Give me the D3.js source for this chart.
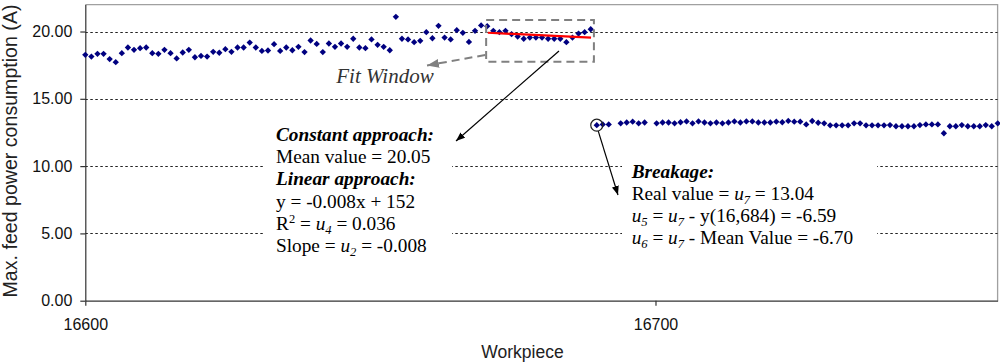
<!DOCTYPE html>
<html><head><meta charset="utf-8">
<script src="https://cdn.jsdelivr.net/npm/d3@7"></script>
<style>body{margin:0;background:#fff} svg{display:block}</style>
</head><body><svg id="c" width="1000" height="364"></svg>
<script>
// ---- data ----
const leftValues = [
 18.27,18.14,18.34,18.34,17.95,17.72,18.39,18.81,18.64,18.76,18.81,18.39,18.34,18.64,18.39,18.00,18.44,18.64,18.09,18.19,
 18.14,18.49,18.42,18.69,18.49,18.81,18.81,19.18,18.81,18.56,18.59,19.06,18.56,18.81,18.61,18.86,18.47,19.33,19.08,18.47,
 19.11,18.86,19.11,18.86,19.46,18.81,18.76,19.41,19.01,18.86,18.61,21.09,19.46,19.41,19.21,19.31,19.95,19.50,20.42,19.55,
 19.41,20.10,19.90,19.23,20.05,20.45,20.40,
 20.05,19.95,20.05,19.80,19.63,19.46,19.55,19.55,19.55,19.46,19.46,19.46,19.21,19.55,19.85,19.95,20.17
];
const rightValues = [
 13.04,13.10,13.10,null,13.18,13.24,13.30,13.18,13.24,null,
 13.18,13.24,13.24,13.18,13.26,13.32,13.18,13.32,13.24,13.18,13.24,13.18,13.24,13.32,13.24,13.32,13.32,13.24,13.24,13.24,13.30,13.26,13.36,
 13.30,13.30,13.10,13.35,13.22,13.18,13.03,13.03,13.03,13.03,13.18,13.18,13.03,13.03,13.03,13.03,13.05,12.96,12.96,12.96,12.96,
 13.05,13.10,13.10,13.10,12.44,12.96,12.96,13.05,12.96,12.96,12.96,13.05,12.96,13.18
];
const leftStart = 16600, leftStep = 1.068;      // workpiece of first sample, workpieces per sample
const rightStart = 16689.7, rightStep = 1.0496;
const yTicks = [0, 5, 10, 15, 20];
const xTicks = [16600, 16700];
const fitLine = [{x: 16670.6, y: 19.91}, {x: 16688.7, y: 19.54}];
const fitWindow = {x0: 16670.3, x1: 16689.2, y0: 17.76, y1: 20.86};
const breakage = {x: rightStart, y: rightValues[0]};

// ---- layout ----
const svg = d3.select("#c");
const x = d3.scaleLinear([16600, 16760], [85.3, 997.6]);
const y = d3.scaleLinear([0, 22], [300.7, 4.6]);
const sans = "'Liberation Sans', Arial, sans-serif";
const serif = "'Liberation Serif', 'Times New Roman', serif";

const defs = svg.append("defs");
function marker(id, color, w, h) {
  defs.append("marker").attr("id", id).attr("viewBox", `0 0 ${w} ${h}`)
    .attr("refX", w).attr("refY", h/2).attr("markerWidth", w).attr("markerHeight", h)
    .attr("markerUnits", "userSpaceOnUse").attr("orient", "auto")
    .append("path").attr("d", `M0,0L${w},${h/2}L0,${h}Z`).attr("fill", color);
}
marker("ab", "#000", 9, 7);
marker("ag", "#808080", 12, 9);

// plot border (top/right)
svg.append("path").attr("d", `M${x.range()[0]},${y(22)}H${x.range()[1]}V${y(0)}`)
  .attr("fill", "none").attr("stroke", "#a0a0a0").attr("stroke-width", 1.3);

// gridlines
svg.append("g").selectAll("line").data(yTicks.filter(d => d > 0)).join("line")
  .attr("x1", x.range()[0]).attr("x2", x.range()[1])
  .attr("y1", d => Math.round(y(d)) + 0.5).attr("y2", d => Math.round(y(d)) + 0.5)
  .attr("stroke", "#222").attr("stroke-width", 1).attr("stroke-dasharray", "2.5,2.5");

// axes
const ay = svg.append("g").attr("transform", `translate(${x.range()[0]},0)`)
  .call(d3.axisLeft(y).tickValues(yTicks).tickFormat(d3.format(".2f")).tickSize(5).tickSizeOuter(0).tickPadding(8));
const ax = svg.append("g").attr("transform", `translate(0,${y(0)})`)
  .call(d3.axisBottom(x).tickValues(xTicks).tickFormat(d3.format("d")).tickSize(5).tickSizeOuter(0).tickPadding(13));
[ax, ay].forEach(g => {
  g.selectAll("path,line").attr("stroke", "#333").attr("stroke-width", 1.2);
  g.selectAll("text").attr("font-family", sans).attr("font-size", 16).attr("fill", "#111");
});

// titles
svg.append("text").attr("x", 522.5).attr("y", 357.5).attr("text-anchor", "middle")
  .attr("font-family", sans).attr("font-size", 17.5).attr("fill", "#222").text("Workpiece");
svg.append("text").attr("transform", "translate(17,151) rotate(-90)").attr("text-anchor", "middle")
  .attr("font-family", sans).attr("font-size", 19.6).attr("fill", "#222").text("Max. feed power consumption (A)");

// white annotation backgrounds
svg.append("rect").attr("x", 264).attr("y", 118).attr("width", 188).attr("height", 140).attr("fill", "#fff");
svg.append("rect").attr("x", 622).attr("y", 152).attr("width", 255).attr("height", 100).attr("fill", "#fff");

// data points
const diamond = {draw(ctx, size) { const r = Math.sqrt(size / 2); ctx.moveTo(0, -r); ctx.lineTo(r, 0); ctx.lineTo(0, r); ctx.lineTo(-r, 0); ctx.closePath(); }};
const pts = [
  ...leftValues.map((v, i) => ({x: leftStart + i * leftStep, y: v})),
  ...rightValues.map((v, i) => ({x: rightStart + i * rightStep, y: v}))
].filter(d => d.y != null);
svg.append("g").selectAll("path").data(pts).join("path")
  .attr("transform", d => `translate(${x(d.x)},${y(d.y)})`)
  .attr("d", d3.symbol(diamond, 20)).attr("fill", "#000080");

// fit window
svg.append("rect").attr("x", x(fitWindow.x0)).attr("y", y(fitWindow.y1))
  .attr("width", x(fitWindow.x1) - x(fitWindow.x0)).attr("height", y(fitWindow.y0) - y(fitWindow.y1))
  .attr("fill", "none").attr("stroke", "#808080").attr("stroke-width", 2).attr("stroke-dasharray", "8,5");
svg.append("line").attr("x1", x(fitLine[0].x)).attr("y1", y(fitLine[0].y))
  .attr("x2", x(fitLine[1].x)).attr("y2", y(fitLine[1].y)).attr("stroke", "#ff0000").attr("stroke-width", 2.2);
// dashed gray arrow to label
svg.append("line").attr("x1", x(fitWindow.x0) - 1).attr("y1", 55).attr("x2", 427).attr("y2", 65.5)
  .attr("stroke", "#808080").attr("stroke-width", 2).attr("stroke-dasharray", "8,5").attr("marker-end", "url(#ag)");
svg.append("text").attr("x", 385).attr("y", 83).attr("text-anchor", "middle")
  .attr("font-family", serif).attr("font-style", "italic").attr("font-size", 21).attr("fill", "#333").text("Fit Window");

// black arrows
svg.append("line").attr("x1", 559).attr("y1", 51).attr("x2", 456).attr("y2", 141)
  .attr("stroke", "#000").attr("stroke-width", 1.2).attr("marker-end", "url(#ab)");
svg.append("circle").attr("cx", x(breakage.x)).attr("cy", y(breakage.y)).attr("r", 6)
  .attr("fill", "none").attr("stroke", "#222").attr("stroke-width", 1.2);
svg.append("line").attr("x1", x(breakage.x) + 1.5).attr("y1", y(breakage.y) + 6).attr("x2", 618).attr("y2", 195)
  .attr("stroke", "#000").attr("stroke-width", 1.2).attr("marker-end", "url(#ab)");

// rich text helper; styles: B bold, I italic, SUB subscript, SUP superscript
function rich(x0, y0, segs, size) {
  const t = svg.append("text").attr("x", x0).attr("y", y0).attr("font-family", serif)
    .attr("font-size", size).attr("fill", "#000");
  let shift = 0;
  segs.forEach(s => {
    const [txt, st] = Array.isArray(s) ? s : [s, ""];
    const flags = st.split(" ");
    const sp = t.append("tspan").text(txt);
    let target = 0;
    if (flags.includes("B")) sp.attr("font-weight", "bold");
    if (flags.includes("I")) sp.attr("font-style", "italic");
    if (flags.includes("SUB")) { sp.attr("font-size", size * 0.65); target = 4; }
    if (flags.includes("SUP")) { sp.attr("font-size", size * 0.65); target = -7; }
    if (target !== shift) { sp.attr("dy", target - shift); shift = target; }
  });
}
const fs = 19.3;
const b1 = [
  [["Constant approach:", "B I"]],
  ["Mean value = 20.05"],
  [["Linear approach:", "B I"]],
  ["y = -0.008x + 152"],
  ["R", ["2", "SUP"], " = ", ["u", "I"], ["4", "I SUB"], " = 0.036"],
  ["Slope = ", ["u", "I"], ["2", "I SUB"], " = -0.008"]
];
b1.forEach((segs, i) => rich(276, 140.5 + i * 22.35, segs, fs));
const b2 = [
  [["Breakage:", "B I"]],
  ["Real value = ", ["u", "I"], ["7", "I SUB"], " = 13.04"],
  [["u", "I"], ["5", "I SUB"], " = ", ["u", "I"], ["7", "I SUB"], " - y(16,684) = -6.59"],
  [["u", "I"], ["6", "I SUB"], " = ", ["u", "I"], ["7", "I SUB"], " - Mean Value = -6.70"]
];
b2.forEach((segs, i) => rich(631.7, 177.5 + i * 22.1, segs, fs));
</script></body></html>
